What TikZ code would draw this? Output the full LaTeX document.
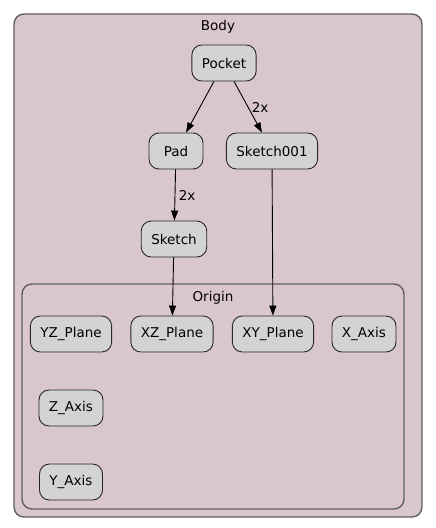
\documentclass[tikz,border=0pt]{standalone}
\usepackage{fontspec}
\setmainfont{DejaVu Sans}
\usetikzlibrary{positioning,arrows.meta}
\definecolor{bodyfill}{HTML}{DAC7CB}
\definecolor{boxline}{HTML}{606060}
\definecolor{featfill}{HTML}{D3D3D3}

\begin{document}
\begin{tikzpicture}[x=1pt, y=-1pt, on grid, auto,
    font=\fontsize{13.5}{16}\selectfont,
    feat/.style={draw=black!85, fill=featfill, line width=0.9pt, rounded corners=10pt,
        minimum width=54pt, minimum height=36pt, inner xsep=10pt},
    group/.style={draw=boxline, fill=bodyfill, line width=1.4pt, rounded corners=10pt},
    >={Triangle[length=10pt, width=7pt]}]

    \useasboundingbox (0,0) rectangle (436,528);

    % clusters
    \draw[group] (14,14) rectangle (422,517);
    \node (bodylbl) at (218,27) {Body};
    \draw[group] (22,284) rectangle (404,509);
    \node (originlbl) at (213,298) {Origin};

    \node[feat] (pocket) at (224,63) {Pocket};
    \node[feat] (pad) [below left=88pt and 48pt of pocket] {Pad};
    \node[feat] (sketch001) [below right=88pt and 48pt of pocket] {Sketch001};
    \node[feat] (sketch) [below left=88pt and 2pt of pad] {Sketch};

    \node[feat] (xzplane) [below left=95pt and 2pt of sketch] {XZ\_Plane};
    \node[feat] (xyplane) [below right=183pt and 1pt of sketch001] {XY\_Plane};
    \node[feat] (yzplane) [left=101pt of xzplane] {YZ\_Plane};
    \node[feat] (xaxis) [right=91pt of xyplane] {X\_Axis};
    \node[feat] (zaxis) [below=74pt of yzplane] {Z\_Axis};
    \node[feat] (yaxis) [below=74pt of zaxis] {Y\_Axis};

    \path[->, line width=0.9pt]
        (pocket) edge (pad)
        (pocket) edge node[right] {2x} (sketch001)
        (pad) edge node {2x} (sketch)
        (sketch) edge (xzplane)
        (sketch001) edge (xyplane);

\end{tikzpicture}
\end{document}
